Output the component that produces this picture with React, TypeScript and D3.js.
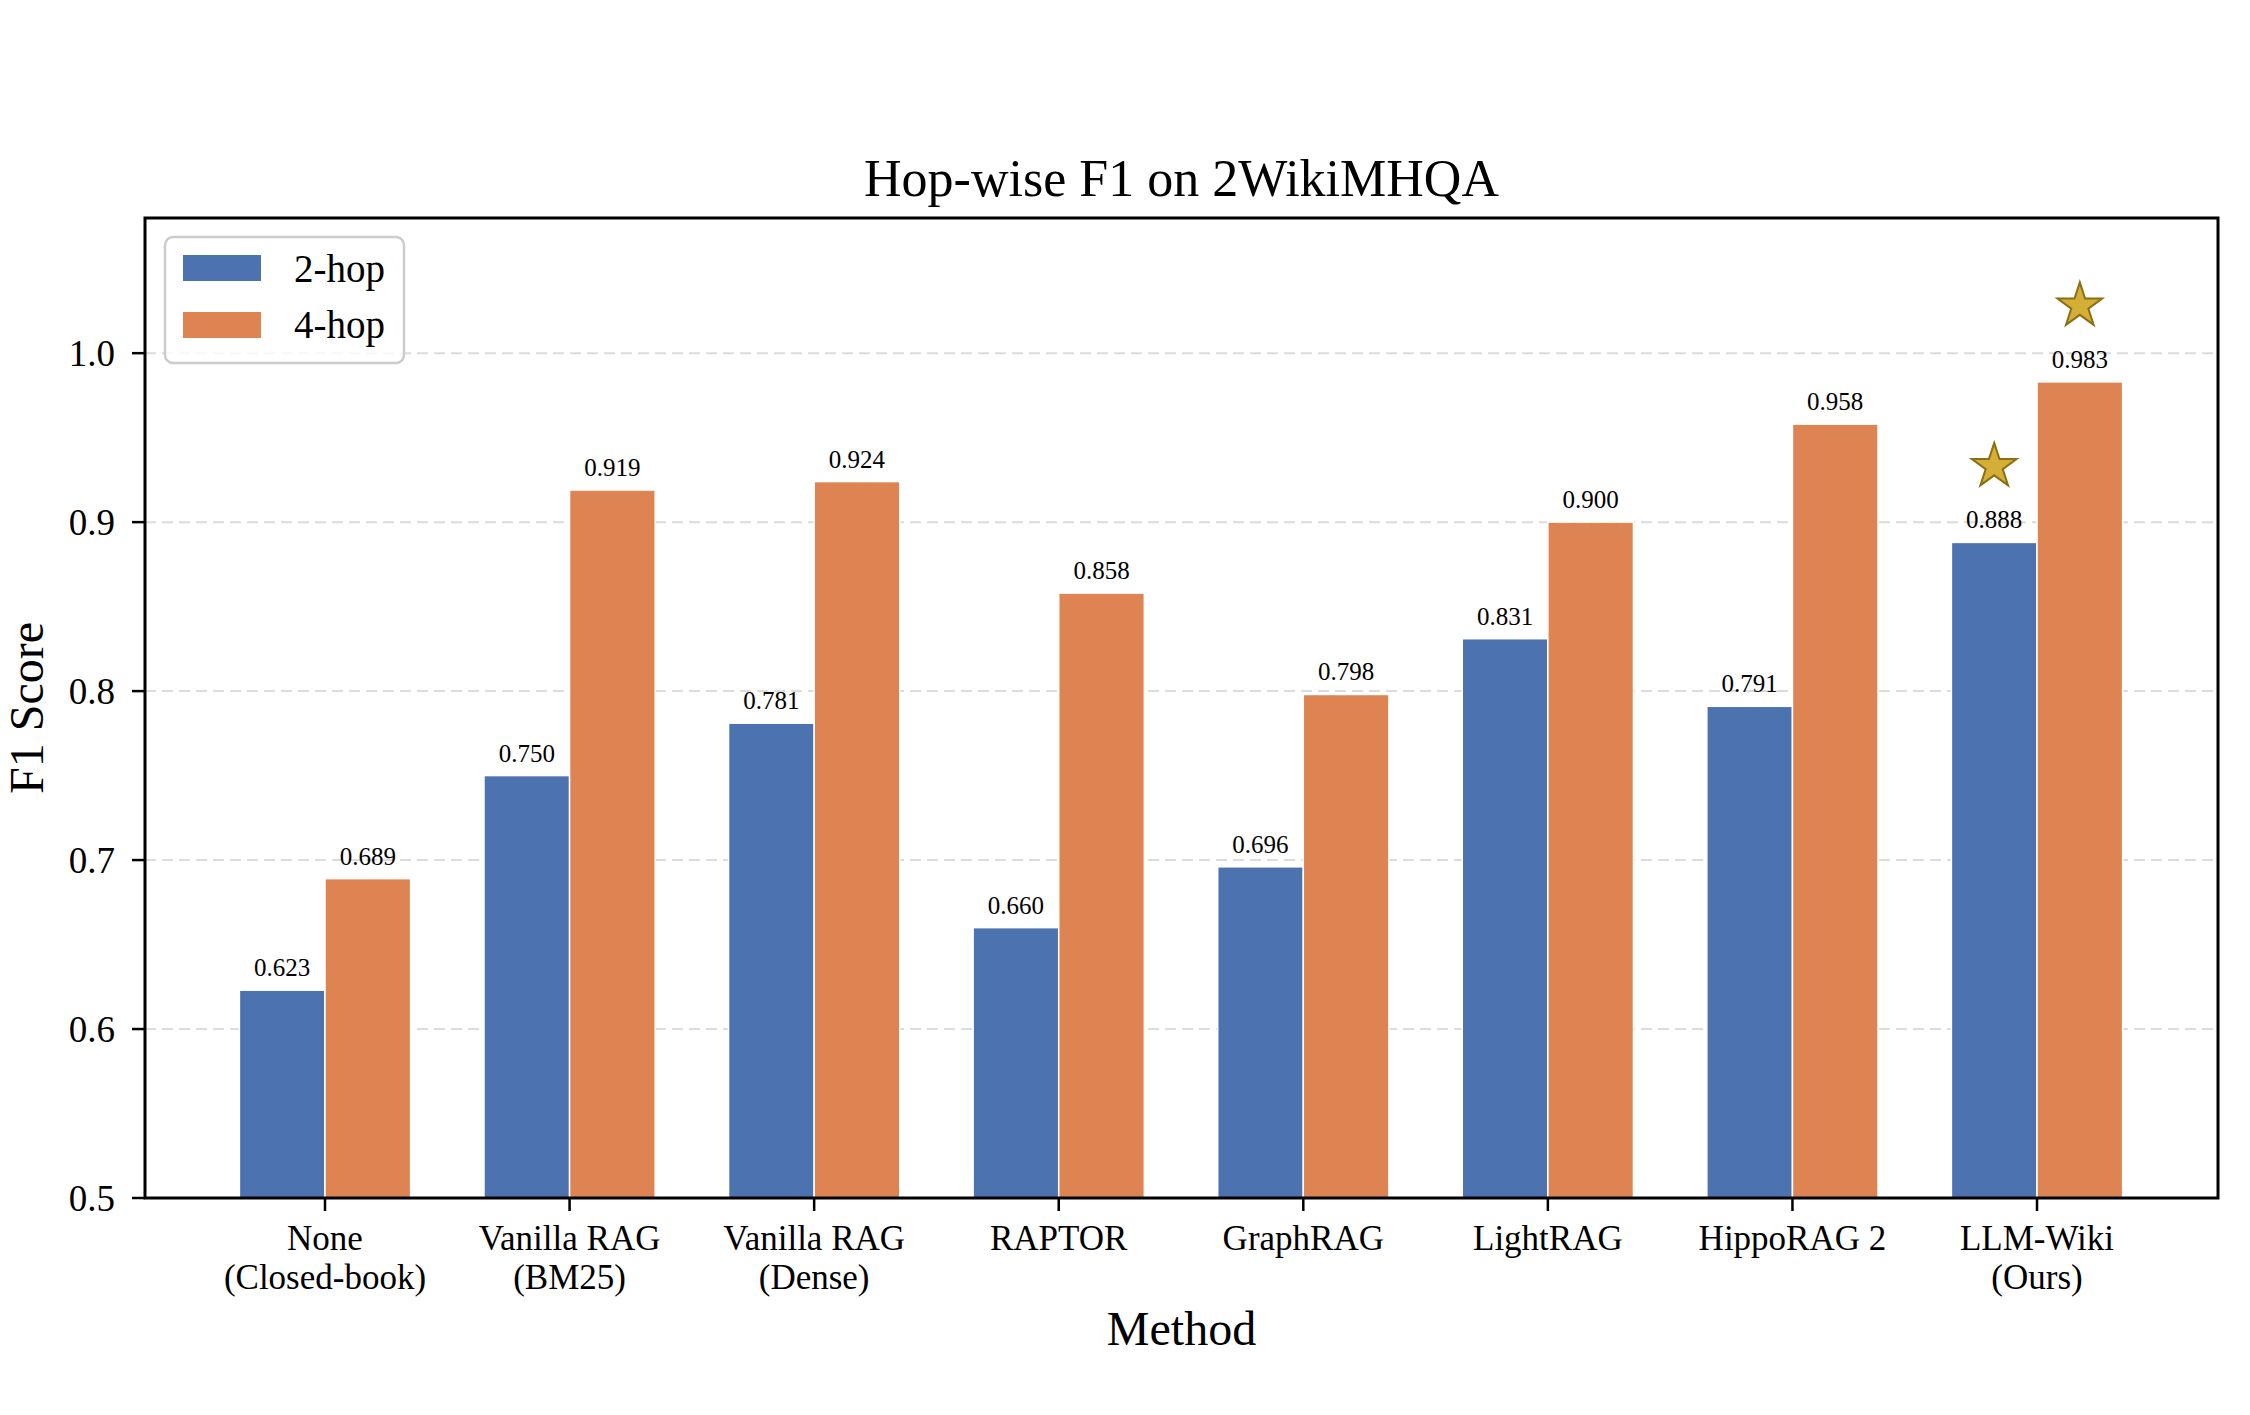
import React from 'react';
import * as d3 from 'd3';

const methods = [
  ['None', '(Closed-book)'],
  ['Vanilla RAG', '(BM25)'],
  ['Vanilla RAG', '(Dense)'],
  ['RAPTOR'],
  ['GraphRAG'],
  ['LightRAG'],
  ['HippoRAG 2'],
  ['LLM-Wiki', '(Ours)'],
];
const hop2 = [0.623, 0.75, 0.781, 0.66, 0.696, 0.831, 0.791, 0.888];
const hop4 = [0.689, 0.919, 0.924, 0.858, 0.798, 0.9, 0.958, 0.983];
const seriesNames = ['2-hop', '4-hop'];
const yTicks = [0.5, 0.6, 0.7, 0.8, 0.9, 1.0];
const starredIndex = 7;

const W = 2250;
const H = 1415;
const plot = { left: 145, right: 2218, top: 218, bottom: 1198 };
const colors = ['#4C72B0', '#DD8452'];
const barW = 0.35;
const font = '"Liberation Serif", "Times New Roman", Times, serif';

export default function App() {
  const x = d3.scaleLinear().domain([-0.736, 7.74]).range([plot.left, plot.right]);
  const y = d3.scaleLinear().domain([0.5, 1.08]).range([plot.bottom, plot.top]);
  const star = d3.symbol().type(d3.symbolStar).size(620)();
  const series = [hop2, hop4];
  const offsets = [-barW, 0];

  return (
    <svg
      width={W}
      height={H}
      style={{ position: 'absolute', left: 0, top: 0, background: '#fff' }}
      fontFamily={font}
    >
      {/* dashed horizontal grid */}
      {yTicks.slice(1).map((t) => (
        <line
          key={'g' + t}
          x1={plot.left}
          x2={plot.right}
          y1={y(t)}
          y2={y(t)}
          stroke="#dcdcdc"
          strokeWidth={2}
          strokeDasharray="11 6"
        />
      ))}

      {/* bars */}
      {series.map((vals, s) =>
        vals.map((v, i) => (
          <rect
            key={s + '-' + i}
            x={x(i + offsets[s])}
            y={y(v)}
            width={x(barW) - x(0)}
            height={y(0.5) - y(v)}
            fill={colors[s]}
            stroke="#fff"
            strokeWidth={1.5}
          />
        ))
      )}

      {/* value labels */}
      {series.map((vals, s) =>
        vals.map((v, i) => (
          <text
            key={'v' + s + '-' + i}
            x={x(i + offsets[s] + barW / 2)}
            y={y(v) - 14}
            textAnchor="middle"
            fontSize={25}
          >
            {v.toFixed(3)}
          </text>
        ))
      )}

      {/* stars over the best method */}
      {series.map((vals, s) => (
        <path
          key={'star' + s}
          d={star}
          transform={`translate(${x(starredIndex + offsets[s] + barW / 2)},${y(vals[starredIndex] + 0.045)})`}
          fill="#D4AF37"
          stroke="#8B6F12"
          strokeWidth={2}
          strokeLinejoin="miter"
        />
      ))}

      {/* frame */}
      <rect
        x={plot.left}
        y={plot.top}
        width={plot.right - plot.left}
        height={plot.bottom - plot.top}
        fill="none"
        stroke="#000"
        strokeWidth={3}
      />

      {/* y axis */}
      {yTicks.map((t) => (
        <g key={'y' + t}>
          <line x1={plot.left - 13} x2={plot.left} y1={y(t)} y2={y(t)} stroke="#000" strokeWidth={2.5} />
          <text x={plot.left - 30} y={y(t) + 13} textAnchor="end" fontSize={37}>
            {t.toFixed(1)}
          </text>
        </g>
      ))}

      {/* x axis */}
      {methods.map((lines, i) => (
        <g key={'x' + i}>
          <line x1={x(i)} x2={x(i)} y1={plot.bottom} y2={plot.bottom + 13} stroke="#000" strokeWidth={2.5} />
          {lines.map((ln, k) => (
            <text key={k} x={x(i)} y={1250 + k * 39} textAnchor="middle" fontSize={35}>
              {ln}
            </text>
          ))}
        </g>
      ))}

      {/* titles */}
      <text x={(plot.left + plot.right) / 2} y={196} textAnchor="middle" fontSize={52}>
        Hop-wise F1 on 2WikiMHQA
      </text>
      <text x={(plot.left + plot.right) / 2} y={1345} textAnchor="middle" fontSize={48}>
        Method
      </text>
      <text
        transform={`translate(43,${(plot.top + plot.bottom) / 2}) rotate(-90)`}
        textAnchor="middle"
        fontSize={48}
      >
        F1 Score
      </text>

      {/* legend */}
      <g>
        <rect x={165} y={237} width={239} height={126} rx={8} fill="#fff" fillOpacity={0.8} stroke="#cccccc" strokeWidth={2.5} />
        {seriesNames.map((name, s) => (
          <g key={name}>
            <rect x={183} y={255 + s * 57} width={78} height={26} fill={colors[s]} />
            <text x={294} y={282 + s * 56} fontSize={39}>
              {name}
            </text>
          </g>
        ))}
      </g>
    </svg>
  );
}
